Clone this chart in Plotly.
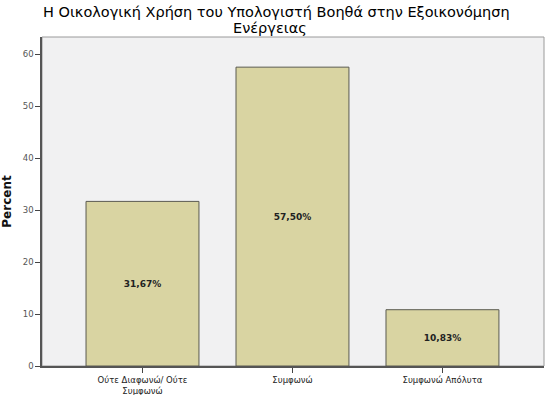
import plotly.graph_objects as go

categories = ["Ούτε Διαφωνώ/ Ούτε<br>Συμφωνώ", "Συμφωνώ", "Συμφωνώ Απόλυτα"]
percents = [31.67, 57.50, 10.83]
labels = ["<b>31,67%</b>", "<b>57,50%</b>", "<b>10,83%</b>"]
y_ticks = [0, 10, 20, 30, 40, 50, 60]

fig = go.Figure(go.Bar(
    x=list(range(len(categories))),
    y=percents,
    text=labels,
    textposition="inside",
    insidetextanchor="middle",
    textfont=dict(family="DejaVu Sans", size=9, color="#222222"),
    marker=dict(color="#d9d4a2", line=dict(color="#5a5a50", width=1)),
    width=0.753,
))

fig.update_layout(
    width=553, height=395,
    margin=dict(l=42, r=9, t=37, b=29, autoexpand=False),
    paper_bgcolor="white",
    plot_bgcolor="#f1f1f2",
    showlegend=False,
    uniformtext=dict(minsize=8, mode="show"),
)
fig.add_annotation(text="Η Οικολογική Χρήση του Υπολογιστή Βοηθά στην Εξοικονόμηση",
                   xref="paper", yref="paper", x=(276 - 42) / 502, y=(366 - 12) / 329,
                   showarrow=False, xanchor="center", yanchor="middle",
                   font=dict(family="DejaVu Sans", size=14.5, color="#000000"))
fig.add_annotation(text="Ενέργειας",
                   xref="paper", yref="paper", x=(270 - 42) / 502, y=(366 - 28) / 329,
                   showarrow=False, xanchor="center", yanchor="middle",
                   font=dict(family="DejaVu Sans", size=14.5, color="#000000"))
fig.update_xaxes(
    range=[-0.67, 2.677], automargin=False,
    tickvals=list(range(len(categories))), ticktext=categories,
    ticks="outside", ticklen=5, tickcolor="#444444",
    showline=True, linecolor="#555555", linewidth=1.5,
    mirror=False, showgrid=False, zeroline=False,
    tickfont=dict(family="DejaVu Sans", size=8.5, color="#222222"),
)
fig.update_yaxes(
    range=[0, 63.3], automargin=False,
    tickvals=y_ticks,
    ticks="outside", ticklen=5, tickcolor="#444444",
    showline=True, linecolor="#555555", linewidth=1.5,
    showgrid=False, zeroline=False,
    tickfont=dict(family="DejaVu Sans", size=8.5, color="#555555"),
    title=dict(text="<b>Percent</b>", font=dict(family="DejaVu Sans", size=12, color="#111111"), standoff=10),
)
fig.add_shape(type="rect", xref="paper", yref="paper", x0=0, y0=0, x1=1, y1=1,
              line=dict(color="#9a9a9a", width=1), layer="below")

fig.write_html("out.html", config={"displayModeBar": False},
               post_script="document.body.style.margin='0';")
